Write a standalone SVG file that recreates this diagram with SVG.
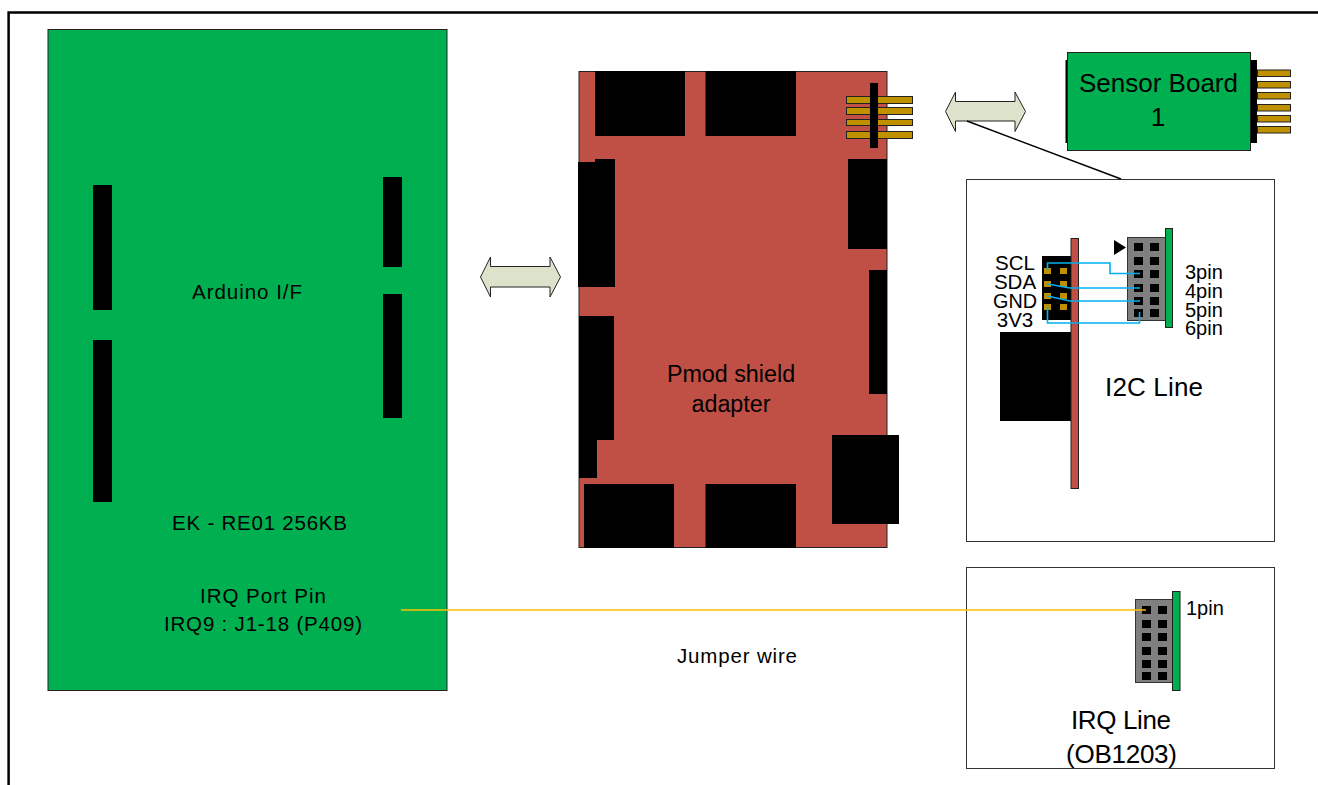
<svg xmlns="http://www.w3.org/2000/svg" width="1318" height="785" viewBox="0 0 1318 785">
<style>
text{font-family:"Liberation Sans",Arial,sans-serif;fill:#000;text-anchor:middle}
.s{text-anchor:start}
.b{fill:#000}
.g{fill:#00b050;stroke:#222;stroke-width:1}
.r{fill:#c05046;stroke:#222;stroke-width:1}
.p{fill:#bf9000;stroke:#222;stroke-width:1}
.c{fill:#7f7f7f;stroke:#333;stroke-width:1}
.w{fill:#fff;stroke:#333;stroke-width:1}
.ar{fill:#dde2cb;stroke:#222;stroke-width:1}
.bl{fill:none;stroke:#00b0f0;stroke-width:1.600}
</style>
<rect width="1318" height="785" fill="#fff"/>
<path d="M8.600 785V12.400H1318" fill="none" stroke="#000" stroke-width="2.500"/>

<g id="main-board">
<rect class="g" x="48" y="29.500" width="399" height="661"/>
<rect class="b" x="93" y="185" width="19" height="125"/>
<rect class="b" x="93" y="340" width="19" height="162"/>
<rect class="b" x="383" y="177" width="19" height="90"/>
<rect class="b" x="383" y="294" width="19" height="124"/>
<text x="247" y="299" font-size="20.500" textLength="110" lengthAdjust="spacing">Arduino I/F</text>
<text x="259.500" y="530" font-size="20.500" textLength="175" lengthAdjust="spacing">EK - RE01 256KB</text>
<text x="263" y="603" font-size="20.500" textLength="126" lengthAdjust="spacing">IRQ Port Pin</text>
<text x="263" y="631" font-size="20.500" textLength="198" lengthAdjust="spacing">IRQ9 : J1-18 (P409)</text>
</g>

<g id="pmod-board">
<rect class="r" x="579" y="71.500" width="308" height="476"/>
<rect class="b" x="595" y="71" width="90" height="65"/>
<rect class="b" x="705.500" y="71" width="90.500" height="65"/>
<rect class="b" x="578" y="162" width="18" height="125"/>
<rect class="b" x="595" y="159" width="20" height="128"/>
<rect class="b" x="579" y="316" width="35" height="124"/>
<rect class="b" x="579" y="440" width="18" height="38"/>
<rect class="b" x="584" y="484" width="90" height="64"/>
<rect class="b" x="705.500" y="484" width="90.500" height="64"/>
<rect class="b" x="848" y="159" width="39" height="90"/>
<rect class="b" x="869" y="270" width="18" height="124"/>
<rect class="b" x="832" y="435" width="67" height="89"/>
<rect class="p" x="846.500" y="96.500" width="66" height="7"/>
<rect class="p" x="846.500" y="107.500" width="66" height="7"/>
<rect class="p" x="846.500" y="119.500" width="66" height="6"/>
<rect class="p" x="846.500" y="131.500" width="66" height="7"/>
<rect class="b" x="870" y="83" width="8" height="65"/>
<text x="731" y="382" font-size="23.300">Pmod shield</text>
<text x="731" y="412" font-size="23.300">adapter</text>
</g>

<g id="sensor-board">
<rect class="b" x="1065.500" y="60" width="2" height="83"/>
<rect class="b" x="1251" y="60" width="6" height="83"/>
<rect class="g" x="1067.500" y="52.500" width="183" height="98"/>
<rect class="p" x="1257.500" y="70" width="33" height="6.500"/>
<rect class="p" x="1257.500" y="81.500" width="33" height="6.500"/>
<rect class="p" x="1257.500" y="92.500" width="33" height="6.500"/>
<rect class="p" x="1257.500" y="104.500" width="33" height="6.500"/>
<rect class="p" x="1257.500" y="115.500" width="33" height="6.500"/>
<rect class="p" x="1257.500" y="126.500" width="33" height="6.500"/>
<text x="1158.500" y="92" font-size="26" textLength="159" lengthAdjust="spacing">Sensor Board</text>
<text x="1158" y="126" font-size="26">1</text>
</g>

<g id="i2c-line">
<rect class="w" x="966.500" y="179.500" width="308" height="362"/>
<rect class="b" x="1000" y="332" width="71" height="89"/>
<rect class="b" x="1042" y="256" width="29" height="64"/>
<rect class="r" x="1071" y="238.500" width="7.500" height="250"/>
<g fill="#bf9000">
<rect x="1044" y="268" width="7" height="6"/><rect x="1060" y="268" width="7" height="6"/>
<rect x="1044" y="281" width="7" height="6"/><rect x="1060" y="281" width="7" height="6"/>
<rect x="1044" y="293" width="7" height="6"/><rect x="1060" y="293" width="7" height="6"/>
<rect x="1044" y="304" width="7" height="6"/><rect x="1060" y="304" width="7" height="6"/>
</g>
<rect class="c" x="1127.500" y="237.500" width="38" height="83"/>
<rect class="g" x="1165.500" y="228.500" width="7" height="99"/>
<polygon class="b" points="1114,240 1126,247.500 1114,255"/>
<g class="b">
<rect x="1134" y="243" width="9" height="8"/><rect x="1150" y="243" width="9" height="8"/>
<rect x="1134" y="257" width="9" height="8"/><rect x="1150" y="257" width="9" height="8"/>
<rect x="1134" y="270" width="9" height="8"/><rect x="1150" y="270" width="9" height="8"/>
<rect x="1134" y="284" width="9" height="8"/><rect x="1150" y="284" width="9" height="8"/>
<rect x="1134" y="297" width="9" height="8"/><rect x="1150" y="297" width="9" height="8"/>
<rect x="1134" y="309" width="9" height="8"/><rect x="1150" y="309" width="9" height="8"/>
</g>
<text x="1015" y="270" font-size="20.500">SCL</text>
<text x="1015" y="289" font-size="20.500">SDA</text>
<text x="1015" y="308" font-size="20.500" textLength="44" lengthAdjust="spacingAndGlyphs">GND</text>
<text x="1015" y="327" font-size="20.500">3V3</text>
<text class="s" x="1185" y="279" font-size="20">3pin</text>
<text class="s" x="1185" y="298" font-size="20">4pin</text>
<text class="s" x="1185" y="317" font-size="20">5pin</text>
<text class="s" x="1185" y="335" font-size="20">6pin</text>
<text x="1154" y="396" font-size="26" textLength="98" lengthAdjust="spacing">I2C Line</text>
</g>

<g id="irq-line">
<rect class="w" x="966.500" y="567.500" width="308" height="201"/>
<rect class="c" x="1135.500" y="599.500" width="37" height="83"/>
<rect class="g" x="1172.500" y="591.500" width="7.500" height="99"/>
<g class="b">
<rect x="1142" y="606" width="9" height="8"/><rect x="1158" y="606" width="9" height="8"/>
<rect x="1142" y="620" width="9" height="8"/><rect x="1158" y="620" width="9" height="8"/>
<rect x="1142" y="633" width="9" height="8"/><rect x="1158" y="633" width="9" height="8"/>
<rect x="1142" y="647" width="9" height="8"/><rect x="1158" y="647" width="9" height="8"/>
<rect x="1142" y="660" width="9" height="8"/><rect x="1158" y="660" width="9" height="8"/>
<rect x="1142" y="672" width="9" height="8"/><rect x="1158" y="672" width="9" height="8"/>
</g>
<text class="s" x="1186" y="615" font-size="20">1pin</text>
<text x="1121" y="729" font-size="26" textLength="100" lengthAdjust="spacing">IRQ Line</text>
<text x="1121.500" y="763" font-size="26" textLength="111" lengthAdjust="spacing">(OB1203)</text>
</g>

<g id="connectors">
<polygon class="ar" points="480.500,277 490.500,257 490.500,266.500 550,266.500 550,257 560.500,277 550,297 550,287 490.500,287 490.500,297"/>
<polygon class="ar" points="945.500,111.500 955.500,92 955.500,101.500 1015,101.500 1015,92 1025.500,111.500 1015,131.500 1015,121 955.500,121 955.500,131.500"/>
<line x1="967" y1="121" x2="1121" y2="179" stroke="#000" stroke-width="1.500"/>
<line x1="401" y1="610" x2="1146" y2="610" stroke="#ffc000" stroke-width="1.300"/>
<path class="bl" d="M1047.500 270V263H1110V273.500H1140"/>
<path class="bl" d="M1047.500 284L1070 288H1140"/>
<path class="bl" d="M1047.500 296L1070 301H1140"/>
<path class="bl" d="M1047.500 307V323H1139.500V312"/>
</g>

<text x="737" y="663" font-size="20.500" textLength="120" lengthAdjust="spacing">Jumper wire</text>
</svg>
